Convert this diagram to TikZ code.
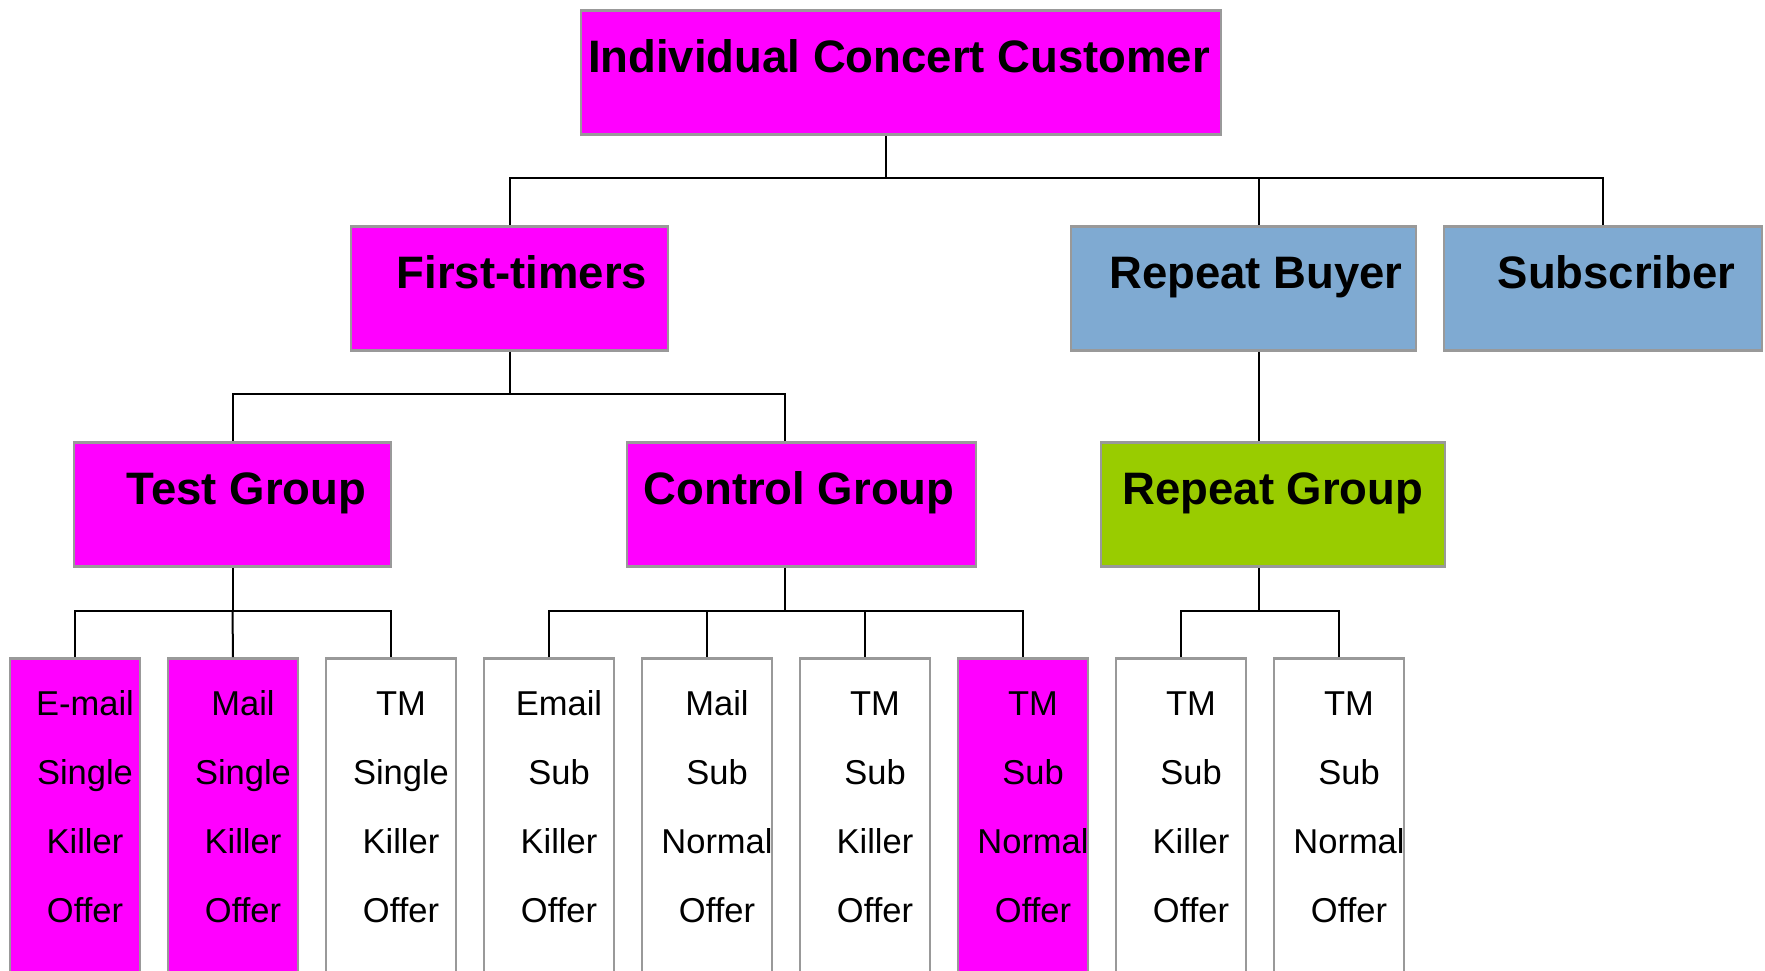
\documentclass[tikz,border=0pt]{standalone}
\usepackage{fontspec}
\setmainfont{Liberation Sans}
\usetikzlibrary{calc}
\definecolor{mag}{HTML}{FF00FF}
\definecolor{bluebox}{HTML}{7FAAD2}
\definecolor{greenbox}{HTML}{99CC00}
\definecolor{edgegray}{HTML}{999999}
\begin{document}
\begin{tikzpicture}[x=1pt,y=-1pt,
  box/.style={draw=edgegray, line width=2.5pt, inner sep=0pt, minimum height=124pt, anchor=north},
  head/.style={font=\fontsize{45.5}{54}\selectfont\bfseries, anchor=base, inner sep=0pt},
  leafbox/.style={draw=edgegray, line width=2.5pt, inner sep=0pt, minimum width=130pt, minimum height=330pt, anchor=north},
  leaftxt/.style={font=\fontsize{34.5}{40}\selectfont, anchor=base, inner sep=0pt},
  conn/.style={line width=2pt, black}]
\clip (0,0) rectangle (1765,970);
\fill[white] (0,0) rectangle (1765,970);

% level 0
\node[box, fill=mag, minimum width=640pt] (top) at (901,9) {};
\node[head] (ttop) at (899,72) {Individual Concert Customer};

% level 1
\node[box, fill=mag, minimum width=317pt] (ft) at (509.5,225) {};
\node[head] (tft) at (522,288) {First-timers};
\node[box, fill=bluebox, minimum width=345pt] (rb) at (1243.5,225) {};
\node[head] (trb) at (1256,288) {Repeat Buyer};
\node[box, fill=bluebox, minimum width=318pt] (sub) at (1603,225) {};
\node[head] (tsub) at (1616.5,288) {Subscriber};

% level 2
\node[box, fill=mag, minimum width=317pt] (tg) at (232.5,441) {};
\node[head] (ttg) at (246.5,504) {Test Group};
\node[box, fill=mag, minimum width=349pt] (cg) at (801.5,441) {};
\node[head] (tcg) at (799,504) {Control Group};
\node[box, fill=greenbox, minimum width=344pt] (rg) at (1273,441) {};
\node[head] (trg) at (1273,504) {Repeat Group};

% leaves
\foreach \i/\a/\b/\c/\d/\f in {
  1/E-mail/Single/Killer/Offer/mag,
  2/Mail/Single/Killer/Offer/mag,
  3/TM/Single/Killer/Offer/white,
  4/Email/Sub/Killer/Offer/white,
  5/Mail/Sub/Normal/Offer/white,
  6/TM/Sub/Killer/Offer/white,
  7/TM/Sub/Normal/Offer/mag,
  8/TM/Sub/Killer/Offer/white,
  9/TM/Sub/Normal/Offer/white}{
  \node[leafbox, fill=\f] (leaf\i) at ({75+158*(\i-1)},657) {};
  \node[leaftxt] (leaf\i a) at ({85+158*(\i-1)},715) {\a};
  \node[leaftxt] (leaf\i b) at ({85+158*(\i-1)},784) {\b};
  \node[leaftxt] (leaf\i c) at ({85+158*(\i-1)},853) {\c};
  \node[leaftxt] (leaf\i d) at ({85+158*(\i-1)},922) {\d};
}

% junction coordinates
\coordinate (j0) at (886,178);
\coordinate (jrb) at (1259,178);
\coordinate (jft) at (510,394);
\coordinate (jcg) at (785,394);
\coordinate (jtg) at (232.5,611);
\coordinate (jcgl) at (785,611);
\coordinate (jrg) at (1259,611);

% connectors level 0 -> 1
\draw[conn] (top.south -| j0) -- (j0);
\draw[conn] (ft.north) -- (ft.north |- j0) -- (sub.north |- j0) -- (sub.north);
\draw[conn] (jrb) -- (rb.north -| jrb);

% First-timers -> groups
\draw[conn] (ft.south -| jft) -- (jft);
\draw[conn] (tg.north) -- (tg.north |- jft) -- (jcg) -- (cg.north -| jcg);

% Repeat buyer -> repeat group
\draw[conn] (rb.south -| jrb) -- (rg.north -| jrb);

% Test group -> leaves
\draw[conn] (tg.south) -- (jtg);
\draw[conn] (leaf1.north) -- (leaf1.north |- jtg) -- (leaf3.north |- jtg) -- (leaf3.north);
\draw[conn] (jtg) -- (leaf2.north);

% Control group -> leaves
\draw[conn] (cg.south -| jcgl) -- (jcgl);
\draw[conn] (leaf4.north) -- (leaf4.north |- jcgl) -- (leaf7.north |- jcgl) -- (leaf7.north);
\draw[conn] (leaf5.north |- jcgl) -- (leaf5.north);
\draw[conn] (leaf6.north |- jcgl) -- (leaf6.north);

% Repeat group -> leaves
\draw[conn] (rg.south -| jrg) -- (jrg);
\draw[conn] (leaf8.north) -- (leaf8.north |- jrg) -- (leaf9.north |- jrg) -- (leaf9.north);
\end{tikzpicture}
\end{document}
